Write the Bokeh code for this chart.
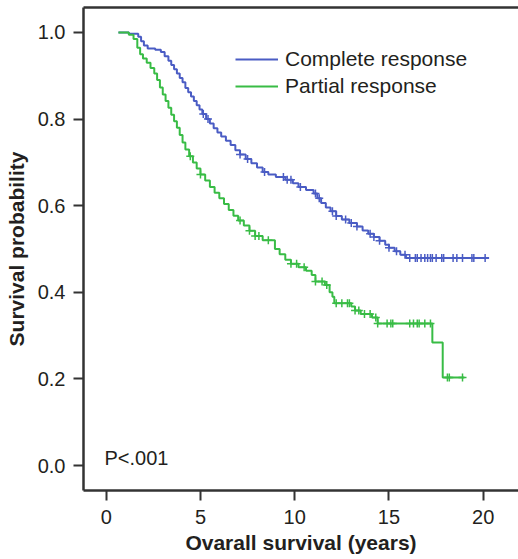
import numpy as np
from bokeh.plotting import figure
from bokeh.models import Range1d, Legend, LegendItem, Label, FixedTicker, LinearAxis
from bokeh.embed import file_html
from bokeh.resources import INLINE

# Complete response (Kaplan-Meier steps)
cr_times = [0.65, 1.2, 1.7, 1.85, 2.0, 2.2, 2.6, 2.9, 3.1, 3.3, 3.45, 3.6, 3.75, 3.9, 4.05,
            4.2, 4.35, 4.5, 4.65, 4.8, 4.95, 5.1, 5.3, 5.5, 5.7, 5.9, 6.1, 6.35, 6.6, 6.85,
            7.1, 7.4, 7.7, 8.0, 8.3, 8.6, 9.0, 9.5, 9.9, 10.2, 10.6, 11.0, 11.2, 11.4,
            11.65, 11.9, 12.2, 12.5, 12.9, 13.3, 13.6, 13.9, 14.2, 14.5, 14.8, 15.0, 15.3,
            15.6, 15.9]
cr_surv = [1.0, 0.997, 0.99, 0.98, 0.97, 0.963, 0.96, 0.955, 0.945, 0.935, 0.925, 0.915,
           0.905, 0.895, 0.885, 0.872, 0.862, 0.852, 0.842, 0.832, 0.822, 0.812, 0.800,
           0.790, 0.779, 0.769, 0.760, 0.750, 0.740, 0.728, 0.718, 0.708, 0.698, 0.688,
           0.678, 0.672, 0.666, 0.660, 0.652, 0.643, 0.636, 0.628, 0.617, 0.606, 0.596,
           0.587, 0.576, 0.568, 0.560, 0.552, 0.543, 0.535, 0.528, 0.519, 0.510, 0.503,
           0.495, 0.487, 0.479]
cr_end = 20.3
cr_censor = [5.15, 5.4, 7.1, 7.5, 8.4, 9.4, 9.6, 9.8, 10.3, 11.1, 11.3, 12.0, 12.2, 12.7,
             13.0, 13.3, 14.0, 14.2, 14.5, 15.0, 15.4, 15.85, 16.1, 16.4, 16.5, 16.7, 16.9,
             17.05, 17.2, 17.3, 17.5, 17.8, 17.9, 18.4, 18.6, 18.9, 19.4, 19.5, 20.1]

# Partial response
pr_times = [0.65, 1.2, 1.45, 1.65, 1.8, 1.95, 2.15, 2.35, 2.55, 2.7, 2.85, 3.0, 3.15, 3.3,
            3.45, 3.6, 3.75, 3.9, 4.05, 4.2, 4.4, 4.6, 4.8, 5.0, 5.25, 5.5, 5.75, 6.0,
            6.25, 6.5, 6.75, 7.0, 7.3, 7.6, 7.9, 8.3, 8.95, 9.2, 9.5, 9.8, 10.2, 10.6,
            10.9, 11.1, 11.6, 11.85, 12.0, 12.1, 13.0, 13.2, 13.5, 14.1, 14.4, 17.3, 17.85]
pr_surv = [1.0, 0.995, 0.985, 0.965, 0.95, 0.94, 0.93, 0.918, 0.905, 0.89, 0.873, 0.857,
           0.842, 0.826, 0.81, 0.795, 0.78, 0.763, 0.746, 0.73, 0.714, 0.70, 0.686, 0.672,
           0.658, 0.643, 0.63, 0.617, 0.604, 0.59, 0.577, 0.566, 0.554, 0.542, 0.53, 0.52,
           0.50, 0.488, 0.475, 0.466, 0.458, 0.45, 0.44, 0.425, 0.417, 0.40, 0.39, 0.375,
           0.367, 0.358, 0.35, 0.342, 0.328, 0.284, 0.203]
pr_end = 19.0
pr_censor = [4.46, 5.0, 7.1, 7.6, 7.9, 8.1, 8.6, 9.8, 10.1, 10.5, 11.1, 11.45, 11.7, 12.2,
             12.5, 12.8, 12.9, 13.2, 13.4, 13.7, 14.0, 14.3, 14.4, 14.9, 15.1, 15.2, 16.1,
             16.3, 16.5, 16.6, 16.9, 17.2, 18.1, 18.2, 18.9]

x_ticks = [0, 5, 10, 15, 20]
y_ticks = [0.0, 0.2, 0.4, 0.6, 0.8, 1.0]

BLUE = "#4a5cc4"
GREEN = "#38bc45"
INK = "#231f20"
AXC = "#333333"
FONT = "Liberation Sans"


def km_at(times, surv, t):
    idx = np.searchsorted(np.asarray(times), np.asarray(t), side="right") - 1
    return np.asarray(surv)[idx]


p = figure(width=518, height=559, output_backend="svg", toolbar_location=None,
           x_range=Range1d(-1.204, 21.87), y_range=Range1d(-0.0577, 1.0577),
           min_border_left=83, min_border_right=0, min_border_top=7, min_border_bottom=69)
p.grid.visible = False
p.background_fill_color = "white"
p.border_fill_color = "white"
p.outline_line_color = None

xax = p.below[0]
yax = p.left[0]

top = LinearAxis(ticker=FixedTicker(ticks=[]), axis_line_color=AXC, axis_line_width=2.5,
                 major_tick_line_color=None, minor_tick_line_color=None,
                 major_label_text_font_size="0px", major_tick_out=0, major_tick_in=0,
                 major_label_standoff=0)
p.add_layout(top, "above")

r_cr = p.step(cr_times + [cr_end], cr_surv + [cr_surv[-1]], mode="after",
              line_color=BLUE, line_width=2)
r_pr = p.step(pr_times + [pr_end], pr_surv + [pr_surv[-1]], mode="after",
              line_color=GREEN, line_width=2)
p.scatter(cr_censor, km_at(cr_times, cr_surv, cr_censor), marker="cross", size=8,
          line_color=BLUE, line_width=1.5)
p.scatter(pr_censor, km_at(pr_times, pr_surv, pr_censor), marker="cross", size=8,
          line_color=GREEN, line_width=1.5)

for ax in (xax, yax):
    ax.axis_line_color = AXC
    ax.axis_line_width = 2.5
    ax.major_tick_line_color = AXC
    ax.major_tick_line_width = 2
    ax.major_tick_out = 10
    ax.major_tick_in = 0
    ax.minor_tick_line_color = None
    ax.major_label_text_font = FONT
    ax.major_label_text_font_size = "20px"
    ax.major_label_text_color = INK
    ax.axis_label_text_font = FONT
    ax.axis_label_text_font_size = "21px"
    ax.axis_label_text_font_style = "bold"
    ax.axis_label_text_color = INK

xax.ticker = FixedTicker(ticks=x_ticks)
yax.ticker = FixedTicker(ticks=y_ticks)
yax.major_label_overrides = {t: f"{t:.1f}" for t in y_ticks}
xax.axis_label = "Ovarall survival (years)"
yax.axis_label = "Survival probability"
xax.major_label_standoff = 9
yax.major_label_standoff = 8
xax.axis_label_standoff = 4
yax.axis_label_standoff = 7

legend = Legend(items=[LegendItem(label="Complete response", renderers=[r_cr]),
                       LegendItem(label="Partial response", renderers=[r_pr])],
                location=(152, 392), padding=0, margin=0, spacing=3,
                glyph_width=43, glyph_height=20, label_height=20, label_standoff=7,
                label_text_font=FONT, label_text_font_size="21px", label_text_color=INK,
                border_line_color=None, background_fill_alpha=0)
p.add_layout(legend, "center")

p.add_layout(Label(x=21, y=22, x_units="screen", y_units="screen", text="P<.001",
                   text_font=FONT, text_font_size="20px", text_color=INK))

open("out.html", "w").write(file_html(p, INLINE))
